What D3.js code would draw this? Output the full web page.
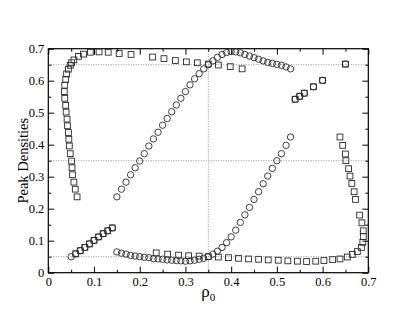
<!DOCTYPE html>
<html><head><meta charset="utf-8">
<script src="https://cdn.jsdelivr.net/npm/d3@7/dist/d3.min.js"></script>
<style>
body{margin:0;background:#fff;}
svg{display:block;}
text{font-family:"Liberation Serif","Times New Roman",serif;}
</style></head>
<body><div id="chart"></div>
<script>
const xTicks = [0,0.1,0.2,0.3,0.4,0.5,0.6,0.7];
const yTicks = [0,0.1,0.2,0.3,0.4,0.5,0.6,0.7];
const xTickLabels = ["0","0.1","0.2","0.3","0.4","0.5","0.6","0.7"];
const yTickLabels = ["0","0.1","0.2","0.3","0.4","0.5","0.6","0.7"];
const minorTicks = [0.05,0.15,0.25,0.35,0.45,0.55,0.65];
const refY = [0.05,0.35,0.65];
const refX = [0.35];

// circles, upper branch
const circUpperX = [0.15,0.16,0.17,0.18,0.19,0.20,0.21,0.22,0.23,0.24,0.25,0.26,0.27,0.28,0.29,0.30,0.31,0.32,0.33,0.34,0.35,0.36,0.37,0.38,0.39,0.40,0.41,0.42,0.43,0.44,0.45,0.46,0.47,0.48,0.49,0.50,0.51,0.52,0.53];
const circUpperY = [0.237,0.261,0.283,0.306,0.328,0.349,0.372,0.396,0.418,0.439,0.461,0.482,0.503,0.524,0.545,0.566,0.587,0.606,0.622,0.637,0.650,0.662,0.673,0.682,0.688,0.691,0.690,0.687,0.682,0.677,0.672,0.667,0.662,0.657,0.654,0.651,0.648,0.643,0.637];
// circles, lower branch
const circLowerX = [0.15,0.16,0.17,0.18,0.19,0.20,0.21,0.22,0.23,0.24,0.25,0.26,0.27,0.28,0.29,0.30,0.31,0.32,0.33,0.34,0.35,0.36,0.37,0.38,0.39,0.40,0.41,0.42,0.43,0.44,0.45,0.46,0.47,0.48,0.49,0.50,0.51,0.52,0.53];
const circLowerY = [0.065,0.061,0.058,0.054,0.052,0.050,0.048,0.047,0.044,0.043,0.042,0.040,0.039,0.038,0.037,0.036,0.037,0.039,0.042,0.045,0.050,0.058,0.067,0.079,0.094,0.112,0.133,0.157,0.181,0.204,0.229,0.253,0.278,0.302,0.326,0.350,0.372,0.398,0.424];
// squares, left branch + top row
const sqUpperX = [0.063,0.059,0.056,0.053,0.052,0.051,0.048,0.046,0.045,0.044,0.042,0.041,0.039,0.038,0.036,0.035,0.036,0.038,0.040,0.044,0.048,0.051,0.056,0.066,0.077,0.092,0.111,0.131,0.155,0.181,0.228,0.253,0.278,0.302,0.326,0.350,0.372,0.398,0.424];
const sqUpperY = [0.237,0.261,0.283,0.306,0.328,0.349,0.372,0.396,0.417,0.438,0.459,0.480,0.502,0.523,0.545,0.566,0.586,0.604,0.621,0.636,0.648,0.656,0.665,0.676,0.683,0.689,0.690,0.689,0.685,0.682,0.674,0.669,0.663,0.659,0.656,0.652,0.649,0.644,0.637];
// squares, bottom row + right branch
const sqLowerX = [0.236,0.261,0.285,0.307,0.330,0.350,0.372,0.394,0.416,0.438,0.460,0.481,0.503,0.524,0.545,0.565,0.585,0.603,0.622,0.638,0.654,0.665,0.676,0.685,0.688,0.689,0.689,0.686,0.681,0.672,0.669,0.664,0.660,0.657,0.651,0.650,0.644,0.638];
const sqLowerY = [0.062,0.058,0.055,0.053,0.052,0.050,0.049,0.047,0.045,0.043,0.042,0.040,0.039,0.037,0.036,0.035,0.036,0.038,0.041,0.043,0.049,0.057,0.066,0.079,0.095,0.113,0.131,0.156,0.180,0.229,0.253,0.279,0.302,0.325,0.350,0.371,0.398,0.424];
// homogeneous states (circle + square overlap)
const homCircX = [0.05,0.06,0.07,0.08,0.09,0.10,0.11,0.12,0.13,0.14,0.54,0.55,0.56,0.58,0.60,0.65];
const homCircY = [0.050,0.059,0.069,0.079,0.090,0.101,0.112,0.122,0.131,0.140,0.542,0.551,0.561,0.581,0.601,0.652];
const homSqX = [0.06,0.07,0.08,0.09,0.10,0.11,0.12,0.13,0.14,0.54,0.55,0.56,0.58,0.60,0.65];
const homSqY = [0.059,0.069,0.079,0.090,0.101,0.112,0.122,0.131,0.140,0.542,0.551,0.561,0.581,0.601,0.652];

const W = 415, H = 321;
const m = {l:48.3, t:48.7, r:46.7, b:48.3};
const w = W - m.l - m.r, h = H - m.t - m.b;
const svg = d3.select("#chart").append("svg").attr("width", W).attr("height", H);
const g = svg.append("g").attr("transform", `translate(${m.l},${m.t})`);
const x = d3.scaleLinear().domain([0,0.7]).range([0,w]);
const y = d3.scaleLinear().domain([0,0.7]).range([h,0]);

// reference dotted lines
g.selectAll(".refy").data(refY).join("line")
  .attr("x1",0).attr("x2",w).attr("y1",d=>y(d)).attr("y2",d=>y(d))
  .attr("stroke","#777").attr("stroke-width",0.8).attr("stroke-dasharray","1,1.5");
g.selectAll(".refx").data(refX).join("line")
  .attr("y1",0).attr("y2",h).attr("x1",d=>x(d)).attr("x2",d=>x(d))
  .attr("stroke","#777").attr("stroke-width",0.8).attr("stroke-dasharray","1,1.5");

function styleAxis(sel){
  sel.select(".domain").remove();
  sel.selectAll(".tick line").attr("stroke","#000");
  sel.selectAll("text").attr("font-size",12.5).attr("fill","#000")
     .attr("font-family","Liberation Serif, serif");
}
const fmtX = (d,i)=>xTickLabels[i];
const fmtY = (d,i)=>yTickLabels[i];
g.append("g").attr("transform",`translate(0,${h})`)
  .call(d3.axisBottom(x).tickValues(xTicks).tickFormat(fmtX).tickSize(-6).tickPadding(4)).call(styleAxis);
g.append("g").attr("transform",`translate(0,${h})`)
  .call(d3.axisBottom(x).tickValues(minorTicks).tickFormat("").tickSize(-3)).call(styleAxis);
g.append("g")
  .call(d3.axisLeft(y).tickValues(yTicks).tickFormat(fmtY).tickSize(-6).tickPadding(4)).call(styleAxis);
g.append("g")
  .call(d3.axisLeft(y).tickValues(minorTicks).tickFormat("").tickSize(-3)).call(styleAxis);
g.append("g")
  .call(d3.axisTop(x).tickValues(xTicks).tickFormat("").tickSize(-6)).call(styleAxis);
g.append("g")
  .call(d3.axisTop(x).tickValues(minorTicks).tickFormat("").tickSize(-3)).call(styleAxis);
g.append("g").attr("transform",`translate(${w},0)`)
  .call(d3.axisRight(y).tickValues(yTicks).tickFormat("").tickSize(-6)).call(styleAxis);
g.append("g").attr("transform",`translate(${w},0)`)
  .call(d3.axisRight(y).tickValues(minorTicks).tickFormat("").tickSize(-3)).call(styleAxis);

g.append("rect").attr("x",0).attr("y",0).attr("width",w).attr("height",h)
  .attr("fill","none").attr("stroke","#000").attr("stroke-width",1.2);

const mk = "#2a2a2a", sw = 0.9, R = 3.2, S = 5.8;
function circles(xs, ys){
  g.append("g").selectAll("circle").data(xs.map((d,i)=>[d,ys[i]])).join("circle")
    .attr("cx",d=>x(d[0])).attr("cy",d=>y(d[1])).attr("r",R)
    .attr("fill","none").attr("stroke",mk).attr("stroke-width",sw);
}
function squares(xs, ys){
  g.append("g").selectAll("rect").data(xs.map((d,i)=>[d,ys[i]])).join("rect")
    .attr("x",d=>x(d[0])-S/2).attr("y",d=>y(d[1])-S/2).attr("width",S).attr("height",S)
    .attr("fill","none").attr("stroke",mk).attr("stroke-width",sw);
}
squares(sqUpperX, sqUpperY);
squares(sqLowerX, sqLowerY);
circles(circUpperX, circUpperY);
circles(circLowerX, circLowerY);
squares(homSqX, homSqY);
circles(homCircX, homCircY);

// axis titles
svg.append("text").attr("transform",`translate(28,${m.t+h/2}) rotate(-90)`)
  .attr("text-anchor","middle").attr("font-size",14.5).text("Peak Densities");
const xl = svg.append("text").attr("x", m.l + w/2).attr("y", 297)
  .attr("text-anchor","middle").attr("font-size",17);
xl.append("tspan").text("ρ");
xl.append("tspan").attr("font-size",11).attr("dy",4).text("0");
</script></body></html>
